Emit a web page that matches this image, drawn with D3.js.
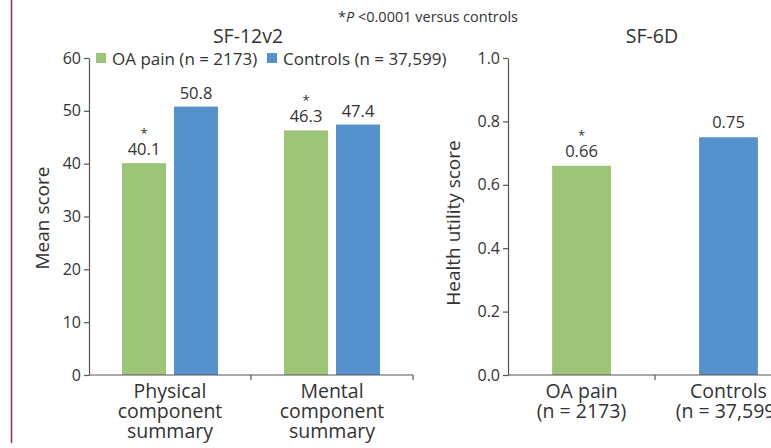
<!DOCTYPE html>
<html>
<head>
<meta charset="utf-8">
<script src="https://cdn.jsdelivr.net/npm/d3@7"></script>
<style>
  body { margin: 0; background: #fff; }
  text { font-family: "Open Sans", "Noto Sans", sans-serif; fill: #333; }
</style>
</head>
<body>
<script>
var width = 771,
    height = 448;

// data
var categories = ["Physical component summary", "Mental component summary"];
var series = ["OA pain (n = 2173)", "Controls (n = 37,599)"];
var oaScores = [40.1, 46.3];
var controlScores = [50.8, 47.4];
var oaStar = [true, true];
var utilGroups = ["OA pain (n = 2173)", "Controls (n = 37,599)"];
var utilValues = [0.66, 0.75];
var utilStar = [true, false];
var leftTicks = [0, 10, 20, 30, 40, 50, 60];
var rightTicks = [0, 0.2, 0.4, 0.6, 0.8, 1.0];

var colors = ["#9dc477", "#5591cb"];

var svg = d3.select("body").append("svg")
    .attr("width", width)
    .attr("height", height);

// purple border line on the left
svg.append("line")
    .attr("x1", 11.5).attr("x2", 11.5)
    .attr("y1", 0).attr("y2", 443)
    .attr("stroke", "#8e2a66")
    .attr("stroke-width", 1.5);

// footnote
var foot = svg.append("text")
    .attr("x", 428).attr("y", 22)
    .attr("text-anchor", "middle")
    .style("font-size", "14.5px");
foot.append("tspan").text("*");
foot.append("tspan").style("font-style", "italic").text("P");
foot.append("tspan").text(" <0.0001 versus controls");

/*===== left panel: SF-12v2 =====*/
var y1 = d3.scaleLinear().domain([0, 60]).range([375, 58]);
var x1 = d3.scaleBand().domain(categories).range([89, 413]).padding(0);
var xs = d3.scaleBand().domain(series).range([0, 96]).paddingInner(8 / 52);

var rows = categories.map(function(c, i) {
  return {cat: c, vals: [oaScores[i], controlScores[i]], star: [oaStar[i], false]};
});

function styleAxis(g) {
  g.selectAll("path, line").attr("stroke", "#555").attr("stroke-width", 1.2);
  g.selectAll("text").style("font-size", "16px").attr("fill", "#333")
    .style("font-family", "'Open Sans', sans-serif");
}

svg.append("g")
    .attr("transform", "translate(89,0)")
    .call(d3.axisLeft(y1).tickValues(leftTicks).tickSize(5).tickSizeOuter(0).tickFormat(d3.format("d")))
    .call(styleAxis)
    .call(function(g) { g.selectAll("text").attr("x", -8); });

var grp = svg.selectAll(".grp").data(rows).enter().append("g")
    .attr("transform", function(d) { return "translate(" + (x1(d.cat) + x1.bandwidth() / 2 - 48) + ",0)"; });

function barData(d) {
  return d.vals.map(function(v, j) { return {s: series[j], v: v, j: j, star: d.star[j]}; });
}

grp.selectAll("rect").data(barData).enter().append("rect")
    .attr("x", function(d) { return xs(d.s); })
    .attr("width", xs.bandwidth())
    .attr("y", function(d) { return y1(d.v); })
    .attr("height", function(d) { return y1(0) - y1(d.v); })
    .attr("fill", function(d) { return colors[d.j]; });

grp.selectAll(".val").data(barData).enter().append("text")
    .attr("x", function(d) { return xs(d.s) + xs.bandwidth() / 2; })
    .attr("y", function(d) { return y1(d.v) - 8; })
    .attr("text-anchor", "middle")
    .style("font-size", "16.5px")
    .text(function(d) { return d.v.toFixed(1); });

grp.selectAll(".star").data(function(d) { return barData(d).filter(function(b) { return b.star; }); })
  .enter().append("text")
    .attr("x", function(d) { return xs(d.s) + xs.bandwidth() / 2; })
    .attr("y", function(d) { return y1(d.v) - 25; })
    .attr("text-anchor", "middle")
    .style("font-size", "13px")
    .text("*");

// x axis (left)
var xa1 = svg.append("g").attr("transform", "translate(0,375)");
xa1.append("line").attr("x1", 89).attr("x2", 413).attr("stroke", "#555").attr("stroke-width", 1.2);
xa1.selectAll(".tk").data(categories).enter().append("line")
    .attr("x1", function(d) { return x1(d) + x1.bandwidth(); })
    .attr("x2", function(d) { return x1(d) + x1.bandwidth(); })
    .attr("y1", 0).attr("y2", 5)
    .attr("stroke", "#555").attr("stroke-width", 1.2);
xa1.selectAll(".lab").data(categories).enter().append("text")
    .attr("text-anchor", "middle")
    .style("font-size", "19.5px")
    .each(function(d) {
      var t = d3.select(this);
      d.split(" ").forEach(function(w, i) {
        t.append("tspan").attr("x", x1(d) + x1.bandwidth() / 2).attr("y", 23 + i * 20).text(w);
      });
    });

svg.append("text")
    .attr("transform", "translate(49,218) rotate(-90)")
    .attr("text-anchor", "middle")
    .style("font-size", "19px")
    .text("Mean score");

svg.append("text")
    .attr("x", 248).attr("y", 43)
    .attr("text-anchor", "middle")
    .style("font-size", "19.5px")
    .text("SF-12v2");

// legend
var legX = [96, 267];
var leg = svg.selectAll(".leg").data(series).enter().append("g")
    .attr("transform", function(d, i) { return "translate(" + legX[i] + ",53)"; });
leg.append("rect").attr("width", 10).attr("height", 10)
    .attr("fill", function(d, i) { return colors[i]; });
leg.append("text").attr("x", 16).attr("y", 11.5)
    .style("font-size", "17px")
    .text(function(d) { return d; });

/*===== right panel: SF-6D =====*/
var y2 = d3.scaleLinear().domain([0, 1]).range([375, 58]);
var x2 = d3.scaleBand().domain(utilGroups).range([508, 802]).padding(0);
var barW = x2.bandwidth() * 0.4;

svg.append("g")
    .attr("transform", "translate(508,0)")
    .call(d3.axisLeft(y2).tickValues(rightTicks).tickSize(5).tickSizeOuter(0).tickFormat(d3.format(".1f")))
    .call(styleAxis)
    .call(function(g) { g.selectAll("text").attr("x", -8); });

var ub = utilGroups.map(function(g, i) { return {g: g, v: utilValues[i], j: i, star: utilStar[i]}; });

svg.selectAll(".ubar").data(ub).enter().append("rect")
    .attr("x", function(d) { return x2(d.g) + x2.bandwidth() / 2 - barW / 2; })
    .attr("width", barW)
    .attr("y", function(d) { return y2(d.v); })
    .attr("height", function(d) { return y2(0) - y2(d.v); })
    .attr("fill", function(d) { return colors[d.j]; });

svg.selectAll(".uval").data(ub).enter().append("text")
    .attr("x", function(d) { return x2(d.g) + x2.bandwidth() / 2; })
    .attr("y", function(d) { return y2(d.v) - 9; })
    .attr("text-anchor", "middle")
    .style("font-size", "16.5px")
    .text(function(d) { return d3.format(".2f")(d.v); });

svg.selectAll(".ustar").data(ub.filter(function(d) { return d.star; })).enter().append("text")
    .attr("x", function(d) { return x2(d.g) + x2.bandwidth() / 2; })
    .attr("y", function(d) { return y2(d.v) - 26; })
    .attr("text-anchor", "middle")
    .style("font-size", "13px")
    .text("*");

var xa2 = svg.append("g").attr("transform", "translate(0,375)");
xa2.append("line").attr("x1", 508).attr("x2", 802).attr("stroke", "#555").attr("stroke-width", 1.2);
xa2.selectAll(".tk").data(utilGroups).enter().append("line")
    .attr("x1", function(d) { return x2(d) + x2.bandwidth(); })
    .attr("x2", function(d) { return x2(d) + x2.bandwidth(); })
    .attr("y1", 0).attr("y2", 5)
    .attr("stroke", "#555").attr("stroke-width", 1.2);
xa2.selectAll(".lab").data(utilGroups).enter().append("text")
    .attr("text-anchor", "middle")
    .style("font-size", "19.5px")
    .each(function(d) {
      var t = d3.select(this);
      var k = d.indexOf(" (");
      [d.slice(0, k), d.slice(k + 1)].forEach(function(w, i) {
        t.append("tspan").attr("x", x2(d) + x2.bandwidth() / 2).attr("y", 23 + i * 20).text(w);
      });
    });

svg.append("text")
    .attr("transform", "translate(460,223) rotate(-90)")
    .attr("text-anchor", "middle")
    .style("font-size", "19px")
    .text("Health utility score");

svg.append("text")
    .attr("x", 652).attr("y", 43)
    .attr("text-anchor", "middle")
    .style("font-size", "19.5px")
    .text("SF-6D");
</script>
</body>
</html>
